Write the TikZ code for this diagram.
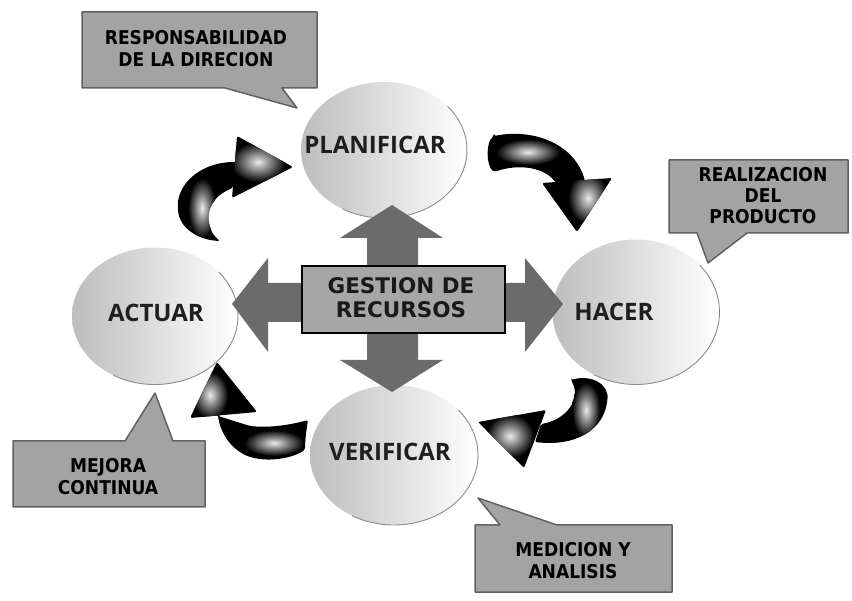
\documentclass[tikz,border=0pt]{standalone}
\usepackage{fontspec}
\setmainfont{Open Sans}
\newfontfamily\stagefont{Open Sans}
\newfontfamily\hubfont{DejaVu Sans}
\newfontfamily\notefont{DejaVu Sans Condensed}
\usetikzlibrary{shapes.geometric}

% outlines of the four curved cycle arrows (tail and head of each)
\newcommand\tailA{(236,162) .. controls (200,162) and (176,185) .. (178,210) .. controls (180,228) and (198,240) .. (220,241) .. controls (204,228) and (202,200) .. (233,188) -- cycle}
\newcommand\headA{(237,136) -- (293,167) -- (232,198) -- cycle}
\newcommand\tailB{(494,136) .. controls (535,128) and (575,145) .. (585,181) -- (556,183) .. controls (545,168) and (520,163) .. (494,172) .. controls (486,165) and (486,142) .. (494,136) -- cycle}
\newcommand\headB{(542,183) -- (612,178) -- (577,232) -- cycle}
\newcommand\tailC{(571,380) .. controls (592,374) and (610,385) .. (607,402) .. controls (603,428) and (578,447) .. (535,442) -- (541,424) .. controls (565,420) and (582,400) .. (571,380) -- cycle}
\newcommand\headC{(478,422) -- (546,410) -- (524,468) -- cycle}
\newcommand\tailD{(218,416) -- (250,426) .. controls (270,428) and (290,425) .. (308,420) .. controls (306,432) and (305,442) .. (305,450) .. controls (285,462) and (255,462) .. (240,452) .. controls (228,444) and (220,430) .. (218,416) -- cycle}
\newcommand\headD{(217,362) -- (257,412) -- (190,418) -- cycle}

\begin{document}
\begin{tikzpicture}[x=1pt,y=-1pt,
  stage/.style={ellipse, inner sep=0pt, left color=black!26, middle color=white, right color=white},
  stagerim/.style={draw=black!45, line width=0.9pt},
  stagetext/.style={font=\stagefont\bfseries\fontsize{24}{28}\selectfont, text=black!88},
  hub/.style={fill=black!58},
  hubbox/.style={fill=black!35, draw=black, line width=1.4pt},
  hubtext/.style={font=\hubfont\bfseries\fontsize{21.5}{24}\selectfont, align=center, text=black!90},
  cyclearrow/.style={fill=black, rounded corners=2pt},
  gloss/.style={inner color=black!8, outer color=black},
  note/.style={fill=black!36, draw=black!62, line width=1.5pt, line join=round},
  notetext/.style={font=\notefont\bfseries\fontsize{19}{22}\selectfont, align=center, text=black}
]
\useasboundingbox (0,0) rectangle (852,601);

% ---- the four stages of the cycle ----
\node[stage, minimum width=166pt, minimum height=136pt] (plan) at (384,150) {};
\node[stage, minimum width=166pt, minimum height=137pt] (act)  at (155,316) {};
\node[stage, minimum width=167pt, minimum height=145pt] (do)   at (636,312) {};
\node[stage, minimum width=168pt, minimum height=140pt] (check) at (394,455) {};
\draw[stagerim] (384,150) ++(120:83 and 68) arc[start angle=120, end angle=-40, x radius=83, y radius=68];
\draw[stagerim] (155,316) ++(120:83 and 68.5) arc[start angle=120, end angle=-40, x radius=83, y radius=68.5];
\draw[stagerim] (636,312) ++(120:83.5 and 72.5) arc[start angle=120, end angle=-40, x radius=83.5, y radius=72.5];
\draw[stagerim] (394,455) ++(120:84 and 70) arc[start angle=120, end angle=-40, x radius=84, y radius=70];

% ---- central four-way arrow with the resources box ----
\fill[hub] (392,205) -- (443,238) -- (418,238) -- (418,283) -- (525,283) -- (525,258)
  -- (563,304) -- (525,352) -- (525,322) -- (418,322) -- (418,360) -- (443,360)
  -- (392,392) -- (340,360) -- (367,360) -- (367,322) -- (268,322) -- (268,352)
  -- (232,304) -- (268,258) -- (268,283) -- (367,283) -- (367,238) -- (340,238) -- cycle;
\node[hubbox, minimum width=203pt, minimum height=67pt] (hubbox) at (403.5,299.5) {};
\node[hubtext] (hubtext) at (401,298) {GESTION DE\\RECURSOS};

% ---- curved cycle arrows ----
\fill[cyclearrow] \tailA;
\begin{scope}\clip \tailA; \shade[gloss] (202,208) ellipse [x radius=14, y radius=30]; \end{scope}
\fill[cyclearrow] \headA;
\begin{scope}\clip \headA; \shade[gloss] (258,162) ellipse [x radius=28, y radius=20]; \end{scope}

\fill[cyclearrow] \tailB;
\begin{scope}\clip \tailB; \shade[gloss] (528,152) ellipse [x radius=32, y radius=13]; \end{scope}
\fill[cyclearrow] \headB;
\begin{scope}\clip \headB; \shade[gloss] (588,198) ellipse [x radius=20, y radius=26]; \end{scope}

\fill[cyclearrow] \tailC;
\begin{scope}\clip \tailC; \shade[gloss] (586,410) ellipse [x radius=14, y radius=28]; \end{scope}
\fill[cyclearrow] \headC;
\begin{scope}\clip \headC; \shade[gloss] (510,436) ellipse [x radius=24, y radius=22]; \end{scope}

\fill[cyclearrow] \tailD;
\begin{scope}\clip \tailD; \shade[gloss] (274,443) ellipse [x radius=30, y radius=13]; \end{scope}
\fill[cyclearrow] \headD;
\begin{scope}\clip \headD; \shade[gloss] (210,395) ellipse [x radius=18, y radius=24]; \end{scope}

% ---- stage labels ----
\node[stagetext] (plantext)  at (375,145) {PLANIFICAR};
\node[stagetext] (acttext)   at (156,313) {ACTUAR};
\node[stagetext] (dotext)    at (614,312) {HACER};
\node[stagetext] (checktext) at (390,452) {VERIFICAR};

% ---- callouts ----
\draw[note] (82,12) -- (317,12) -- (317,88) -- (282,88) -- (297,108) -- (225,88) -- (82,88) -- cycle;
\node[notetext] (duty) at (196,49) {RESPONSABILIDAD\\DE LA DIRECION};

\draw[note] (669,160) -- (848,160) -- (848,233) -- (747,233) -- (708,263) -- (697,233) -- (669,233) -- cycle;
\node[notetext, font=\notefont\bfseries\fontsize{19}{21}\selectfont] (product) at (763,196) {REALIZACION\\DEL\\PRODUCTO};

\draw[note] (13,441) -- (125,441) -- (155,393) -- (173,441) -- (205,441) -- (205,507) -- (13,507) -- cycle;
\node[notetext] (improve) at (108,477) {MEJORA\\CONTINUA};

\draw[note] (475,525) -- (500,525) -- (478,498) -- (557,525) -- (672,525) -- (672,592) -- (475,592) -- cycle;
\node[notetext] (measure) at (573,561) {MEDICION Y\\ANALISIS};
\end{tikzpicture}
\end{document}
